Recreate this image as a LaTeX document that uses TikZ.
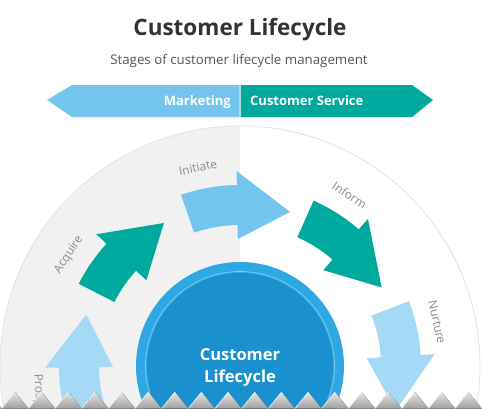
\documentclass[tikz,border=0pt]{standalone}
\usepackage{fontspec}
\setmainfont{Open Sans}
\usetikzlibrary{calc}
\definecolor{tealc}{HTML}{00A99E}
\definecolor{bluec}{HTML}{74C5EE}
\definecolor{paleblue}{HTML}{A6D9F5}
\definecolor{bggray}{HTML}{F1F1F1}
\definecolor{edgegray}{HTML}{E2E2E2}
\definecolor{ringblue}{HTML}{2EA8E3}
\definecolor{coreblue}{HTML}{1A91CE}
\definecolor{titlegray}{HTML}{333333}
\definecolor{subgray}{HTML}{555555}
\definecolor{labgray}{HTML}{8C8C8C}
\newcommand\cycarrow[4]{% colour, tail angle, head base angle, tip angle
  \fill[#1] (#2:181pt) arc[start angle=#2, end angle=#3, radius=181pt]
    -- (#3:195pt) -- (#4:162pt) -- (#3:127pt) -- (#3:141pt)
    arc[start angle=#3, end angle=#2, radius=141pt] -- cycle;}
\tikzset{
  lab/.style={text=labgray, font=\fontsize{12}{14}\selectfont, inner sep=0pt},
  bannertext/.style={text=white, font=\bfseries\fontsize{13}{15}\selectfont, inner sep=0pt},
  tooth/.style={top color=gray!20, bottom color=gray!75}
}
\begin{document}
\begin{tikzpicture}[x=1pt, y=-1pt]
\useasboundingbox (0,0) rectangle (483,408);
\fill[white] (0,0) rectangle (483,408);
% title
\node[font=\bfseries\fontsize{22.5}{26}\selectfont, text=titlegray, anchor=base, inner sep=0pt] (title) at (240,35) {Customer Lifecycle};
\node[font=\fontsize{13.3}{16}\selectfont, text=subgray, anchor=base, inner sep=0pt] (subtitle) at (239,64) {Stages of customer lifecycle management};
% banner
\fill[bluec] (47,100) -- (72,85) -- (239.5,85) -- (239.5,117) -- (72,117) -- cycle;
\fill[tealc] (240.5,85) -- (412,85) -- (433,100) -- (412,117) -- (240.5,117) -- cycle;
\node[bannertext, anchor=base east] (mkt) at (231,105) {Marketing};
\node[bannertext, anchor=base west] (svc) at (250,105) {Customer Service};
% cycle
\begin{scope}[shift={(240,366)}]
  \fill[bggray] (90:240pt) arc[start angle=90, end angle=270, radius=240pt] -- cycle;
  \draw[edgegray, line width=0.8pt] (0,0) circle[radius=240pt];
  \cycarrow{paleblue}{197}{180.5}{161.5}
  \cycarrow{tealc}{153}{137.5}{118}
  \cycarrow{bluec}{109}{91}{72}
  \cycarrow{tealc}{66}{49}{29}
  \cycarrow{paleblue}{21}{3.5}{-16}
  \node[lab, rotate=57] (acq) at (147:204pt) {Acquire};
  \node[lab, rotate=12] (ini) at (102:203pt) {Initiate};
  \node[lab, rotate=-32.7] (inf) at (57.3:203pt) {Inform};
  \node[lab, rotate=-77.4] (nur) at (12.6:202pt) {Nurture};
  \fill[ringblue] (0,0) circle[radius=104pt];
  \fill[coreblue] (0,0) circle[radius=93pt];
  \draw[white, opacity=0.4, line width=0.7pt] (0,0) circle[radius=94.5pt];
\end{scope}
\node[lab, rotate=-86, anchor=west] (pro) at (37,374) {Prospect};
\node[text=white, font=\bfseries\fontsize{16.5}{20}\selectfont, anchor=base, inner sep=0pt] (c1) at (240,360) {Customer};
\node[text=white, font=\bfseries\fontsize{16.5}{20}\selectfont, anchor=base, inner sep=0pt] (c2) at (240,382) {Lifecycle};
% torn edge
\foreach \k in {-1,...,17} {
  \fill[tooth] ({1.667+26.667*\k},408.5) -- ({15+26.667*\k},392) -- ({28.333+26.667*\k},408.5) -- cycle;
  \draw[white, line width=0.6pt] ({1.667+26.667*\k},408.5) -- ({15+26.667*\k},392);
}
\end{tikzpicture}
\end{document}
